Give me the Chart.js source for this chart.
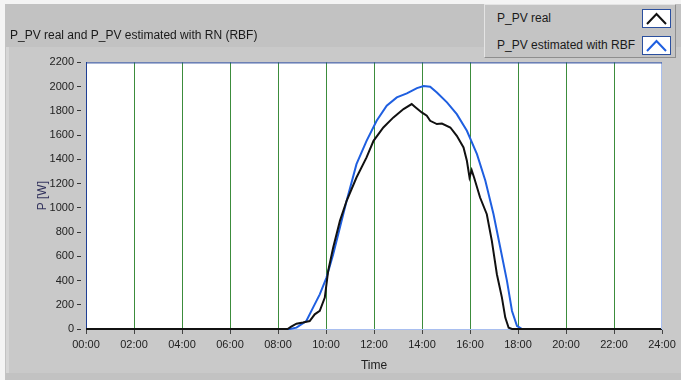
<!DOCTYPE html>
<html>
<head>
<meta charset="utf-8">
<script src="https://cdn.jsdelivr.net/npm/chart.js@4/dist/chart.umd.min.js"></script>
<style>
  body { margin: 0; background: #c4c4c4; }
  #wrap { position: relative; width: 681px; height: 380px; overflow: hidden; }
  #legend {
    position: absolute; left: 484px; top: 4px; width: 190px; height: 52px;
    background: #c4c4c4; border: 1px solid #e4e4e4;
    border-right-color: #8e8e8e; border-bottom-color: #8e8e8e;
    font: 12px "Liberation Sans", Arial, sans-serif; color: #1a1a1a;
  }
  #legend .row { position: absolute; left: 12px; right: 2px; height: 20px; }
  #legend .row span { position: absolute; left: 0; top: 2px; }
  #legend svg { position: absolute; right: 2px; top: 0; }
</style>
</head>
<body>
<div id="wrap">
  <canvas id="c" width="681" height="380"></canvas>
  <div id="legend"></div>
</div>
<script>
// hours of the day and power values
const realTimes = [0, 8.4, 8.55, 8.77, 9.04, 9.32, 9.53, 9.74, 9.95, 10.09, 10.3, 10.58, 10.86,
  11.27, 11.69, 11.98, 12.39, 12.81, 13.23, 13.57, 13.7, 13.99, 14.2, 14.34, 14.62, 14.83,
  15.18, 15.45, 15.73, 15.87, 15.98, 16.07, 16.17, 16.42, 16.7, 16.91, 17.12, 17.33, 17.47,
  17.61, 17.75, 24]
const realValues = [0, 0, 19, 44, 54, 66, 121, 149, 259, 479, 672, 892, 1058,
  1250, 1416, 1553, 1663, 1746, 1815, 1856, 1834, 1787, 1760, 1718, 1691, 1696,
  1663, 1594, 1498, 1388, 1250, 1311, 1250, 1085, 947, 727, 452, 259, 94,
  10, 0, 0]

const rbfTimes = [0, 8.49, 8.77, 9.18, 9.46, 9.74, 10.02, 10.3, 10.58, 10.86, 11.27, 11.69,
  12.11, 12.53, 12.95, 13.37, 13.79, 14.07, 14.34, 14.62, 15.04, 15.45, 15.87, 16.29,
  16.64, 16.98, 17.26, 17.54, 17.75, 17.96, 18.17, 24]
const rbfValues = [0, 0, 11, 66, 176, 286, 424, 617, 837, 1058, 1360, 1553,
  1718, 1842, 1911, 1944, 1988, 2005, 2000, 1952, 1870, 1773, 1636, 1443,
  1223, 947, 672, 397, 149, 25, 0, 0]

const seriesNames = ['P_PV real', 'P_PV estimated with RBF']
const seriesColors = ['#111111', '#1f5fe0']
const yTicks = [0, 200, 400, 600, 800, 1000, 1200, 1400, 1600, 1800, 2000, 2200]

const FONT = '"Liberation Sans", Arial, sans-serif'

const toPoints = (xs, ys) => xs.map((x, i) => ({x: x, y: ys[i]}))

// panel backgrounds and plot frame
const frame = {
  id: 'frame',
  beforeDraw(chart) {
    const c = chart.ctx, a = chart.chartArea
    c.save()
    c.fillStyle = '#c2c2c2'
    c.fillRect(0, 0, chart.width, chart.height)
    c.fillStyle = '#f4f4f4'
    c.fillRect(0, 0, chart.width, 4)
    c.fillRect(0, 0, 5, chart.height)
    c.fillStyle = '#c9c9c9'
    c.fillRect(6, 47, chart.width - 6, 326)
    c.fillStyle = '#d6d6d6'
    c.fillRect(6, 47, 3, 326)
    c.fillStyle = '#ffffff'
    c.fillRect(a.left, a.top, a.right - a.left, a.bottom - a.top)
    c.restore()
  },
  afterDraw(chart) {
    const c = chart.ctx, a = chart.chartArea
    c.save()
    c.lineWidth = 1
    c.strokeStyle = '#a9bff0'
    c.beginPath()
    c.moveTo(a.right - 0.5, a.top)
    c.lineTo(a.right - 0.5, a.bottom)
    c.stroke()
    c.strokeStyle = '#1e3f94'
    c.beginPath()
    c.moveTo(a.left, a.top + 0.5)
    c.lineTo(a.right, a.top + 0.5)
    c.stroke()
    c.restore()
  }
}

new Chart(document.getElementById('c'), {
  type: 'line',
  data: {
    datasets: [
      {
        label: seriesNames[0],
        data: toPoints(realTimes, realValues),
        borderColor: seriesColors[0],
        borderWidth: 2,
        pointRadius: 0,
        tension: 0,
        clip: 2
      },
      {
        label: seriesNames[1],
        data: toPoints(rbfTimes, rbfValues),
        borderColor: seriesColors[1],
        borderWidth: 2,
        pointRadius: 0,
        tension: 0,
        clip: 2
      }
    ]
  },
  options: {
    responsive: false,
    animation: false,
    layout: {padding: {left: 10, right: 19, top: 0, bottom: 0}},
    plugins: {
      legend: {display: false},
      tooltip: {enabled: false},
      title: {
        display: true,
        text: 'P_PV real and P_PV estimated with RN (RBF)',
        align: 'start',
        color: '#1a1a1a',
        font: {family: FONT, size: 12, weight: 'normal'},
        padding: {top: 28, bottom: 20}
      }
    },
    scales: {
      x: {
        type: 'linear',
        min: 0,
        max: 24,
        afterFit: s => { s.height = 51 },
        ticks: {
          stepSize: 2,
          autoSkip: false,
          maxRotation: 0,
          padding: 2,
          color: '#222',
          font: {family: FONT, size: 11},
          callback: v => String(v).padStart(2, '0') + ':00'
        },
        grid: {
          color: ctx => (ctx.tick && (ctx.tick.value === 0 || ctx.tick.value === 24)) ? 'rgba(0,0,0,0)' : '#3c8c3c',
          tickColor: '#444',
          tickLength: 7,
          tickBorderDash: [4, 3]
        },
        border: {display: true, color: '#a9bff0', width: 1},
        title: {
          display: true,
          text: 'Time',
          color: '#222',
          font: {family: FONT, size: 12},
          padding: {top: 0, bottom: 7}
        }
      },
      y: {
        min: 0,
        max: 2200,
        afterFit: s => { s.width = 76 },
        afterBuildTicks: s => { s.ticks = yTicks.map(v => ({value: v})) },
        ticks: {
          padding: 3,
          color: '#222',
          font: {family: FONT, size: 11},
          callback: v => String(v)
        },
        grid: {
          drawOnChartArea: false,
          tickColor: '#333',
          tickLength: 9,
          tickBorderDash: [4, 5]
        },
        border: {display: true, color: '#1e3f94', width: 1},
        title: {
          display: true,
          text: 'P [W]',
          color: '#34345e',
          font: {family: FONT, size: 12},
          padding: {top: 25, bottom: 0}
        }
      }
    }
  },
  plugins: [frame]
})

// legend box, line swatches on the right as in the original
const legend = document.getElementById('legend')
seriesNames.forEach((name, i) => {
  const row = document.createElement('div')
  row.className = 'row'
  row.style.top = (i === 0 ? 4 : 31) + 'px'
  row.innerHTML = '<span>' + name + '</span>' +
    '<svg width="29" height="19"><rect x="0.5" y="0.5" width="28" height="18" fill="#fff" stroke="#2a4f9e"/>' +
    '<polyline points="5,15 14.5,5 24,15" fill="none" stroke="' + seriesColors[i] + '" stroke-width="2"/></svg>'
  legend.appendChild(row)
})
</script>
</body>
</html>
